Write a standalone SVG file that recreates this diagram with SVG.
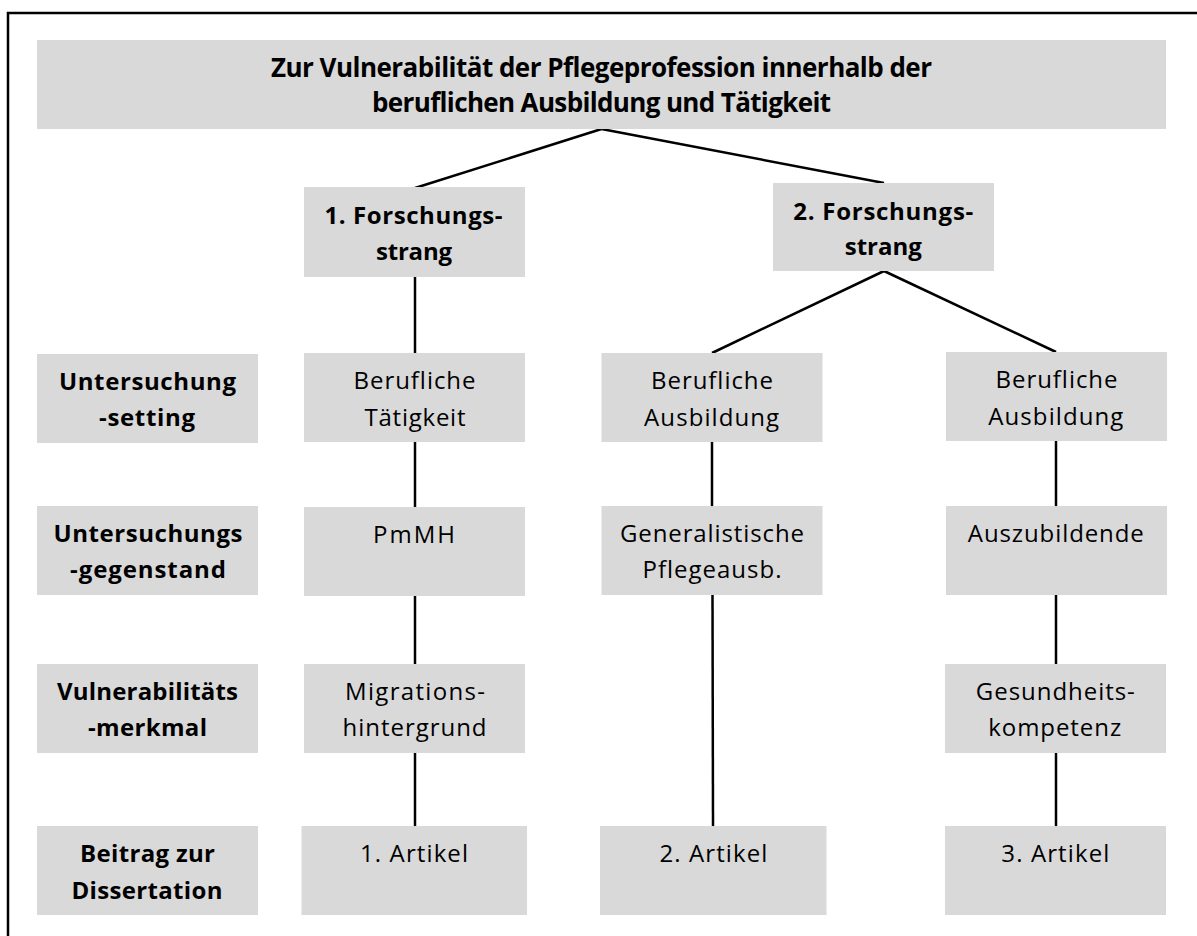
<svg xmlns="http://www.w3.org/2000/svg" width="1197" height="936" viewBox="0 0 1197 936">
  <style>
    .box { fill: #d9d9d9; }
    .t { font-family: "Open Sans", "Noto Sans", "Liberation Sans", sans-serif; font-size: 24px; fill: #000; text-anchor: middle; font-variant-ligatures: none; }
    .b { font-weight: bold; }
    .title { font-size: 26px; }
    .conn { stroke: #000; stroke-width: 2.5; fill: none; }
  </style>
  <rect x="0" y="0" width="1197" height="936" fill="#fff"/>
  <path d="M8,936 V13 H1197" stroke="#000" stroke-width="2.5" fill="none"/>

  <g id="connectors">
    <line class="conn" x1="601.5" y1="129" x2="415" y2="188"/>
    <line class="conn" x1="601.5" y1="129" x2="884" y2="183"/>
    <line class="conn" x1="415" y1="277" x2="415" y2="353"/>
    <line class="conn" x1="884" y1="271" x2="712" y2="353"/>
    <line class="conn" x1="884" y1="271" x2="1056" y2="352"/>
    <line class="conn" x1="415" y1="442" x2="415" y2="507"/>
    <line class="conn" x1="415" y1="596" x2="415" y2="664"/>
    <line class="conn" x1="415" y1="753" x2="415" y2="826"/>
    <line class="conn" x1="712" y1="442" x2="712" y2="506"/>
    <line class="conn" x1="712.5" y1="595" x2="713" y2="826"/>
    <line class="conn" x1="1056" y1="441" x2="1056" y2="506"/>
    <line class="conn" x1="1056" y1="595" x2="1056" y2="664"/>
    <line class="conn" x1="1056" y1="753" x2="1056" y2="826"/>
  </g>

  <g id="title">
    <rect class="box" x="37" y="40" width="1129" height="89"/>
    <text class="t b title" x="601.5" y="77" textLength="661">Zur Vulnerabilität der Pflegeprofession innerhalb der</text>
    <text class="t b title" x="601.5" y="112" textLength="459">beruflichen Ausbildung und Tätigkeit</text>
  </g>

  <g id="strang1">
    <rect class="box" x="304" y="187" width="221" height="90"/>
    <text class="t b" x="413.5" y="224" textLength="178">1. Forschungs-</text>
    <text class="t b" x="414" y="260" textLength="76">strang</text>
  </g>
  <g id="strang2">
    <rect class="box" x="773" y="183" width="221" height="88"/>
    <text class="t b" x="883.3" y="220" textLength="180">2. Forschungs-</text>
    <text class="t b" x="883.3" y="255" textLength="77">strang</text>
  </g>

  <g id="label-setting">
    <rect class="box" x="37" y="354" width="221" height="89"/>
    <text class="t b" x="147.5" y="390" textLength="177">Untersuchung</text>
    <text class="t b" x="147" y="426" textLength="96">-setting</text>
  </g>
  <g id="label-gegenstand">
    <rect class="box" x="37" y="506" width="221" height="89"/>
    <text class="t b" x="148" y="542" textLength="189">Untersuchungs</text>
    <text class="t b" x="148" y="578" textLength="156">-gegenstand</text>
  </g>
  <g id="label-merkmal">
    <rect class="box" x="37" y="664" width="221" height="89"/>
    <text class="t b" x="147.5" y="700" textLength="181">Vulnerabilitäts</text>
    <text class="t b" x="147.5" y="736" textLength="119">-merkmal</text>
  </g>
  <g id="label-beitrag">
    <rect class="box" x="37" y="826" width="221" height="89"/>
    <text class="t b" x="147.5" y="862" textLength="135">Beitrag zur</text>
    <text class="t b" x="147" y="899" textLength="151">Dissertation</text>
  </g>

  <g id="c1-setting">
    <rect class="box" x="304" y="353" width="221" height="89"/>
    <text class="t" x="414.5" y="389" textLength="122">Berufliche</text>
    <text class="t" x="415" y="426" textLength="101">Tätigkeit</text>
  </g>
  <g id="c1-gegenstand">
    <rect class="box" x="304" y="507" width="221" height="89"/>
    <text class="t" x="414" y="543" textLength="82">PmMH</text>
  </g>
  <g id="c1-merkmal">
    <rect class="box" x="304" y="664" width="221" height="89"/>
    <text class="t" x="415" y="700" textLength="140">Migrations-</text>
    <text class="t" x="414.5" y="736" textLength="144">hintergrund</text>
  </g>
  <g id="c1-artikel">
    <rect class="box" x="301.5" y="826" width="225.5" height="89"/>
    <text class="t" x="414" y="862" textLength="108">1. Artikel</text>
  </g>

  <g id="c2-setting">
    <rect class="box" x="601.5" y="353" width="221" height="89"/>
    <text class="t" x="712" y="389" textLength="122">Berufliche</text>
    <text class="t" x="711.6" y="426" textLength="135">Ausbildung</text>
  </g>
  <g id="c2-gegenstand">
    <rect class="box" x="601.5" y="506" width="221" height="89"/>
    <text class="t" x="712" y="542" textLength="184">Generalistische</text>
    <text class="t" x="712" y="578" textLength="139">Pflegeausb.</text>
  </g>
  <g id="c2-artikel">
    <rect class="box" x="600" y="826" width="226.5" height="89"/>
    <text class="t" x="713.4" y="862" textLength="108">2. Artikel</text>
  </g>

  <g id="c3-setting">
    <rect class="box" x="946" y="352" width="221" height="89"/>
    <text class="t" x="1056.5" y="388" textLength="122">Berufliche</text>
    <text class="t" x="1055.8" y="425" textLength="135">Ausbildung</text>
  </g>
  <g id="c3-gegenstand">
    <rect class="box" x="946" y="506" width="221" height="89"/>
    <text class="t" x="1055.8" y="542" textLength="176">Auszubildende</text>
  </g>
  <g id="c3-merkmal">
    <rect class="box" x="945" y="664" width="221" height="89"/>
    <text class="t" x="1055.3" y="700" textLength="159">Gesundheits-</text>
    <text class="t" x="1054.7" y="736" textLength="133">kompetenz</text>
  </g>
  <g id="c3-artikel">
    <rect class="box" x="945" y="826" width="221" height="89"/>
    <text class="t" x="1055.3" y="862" textLength="108">3. Artikel</text>
  </g>
</svg>
